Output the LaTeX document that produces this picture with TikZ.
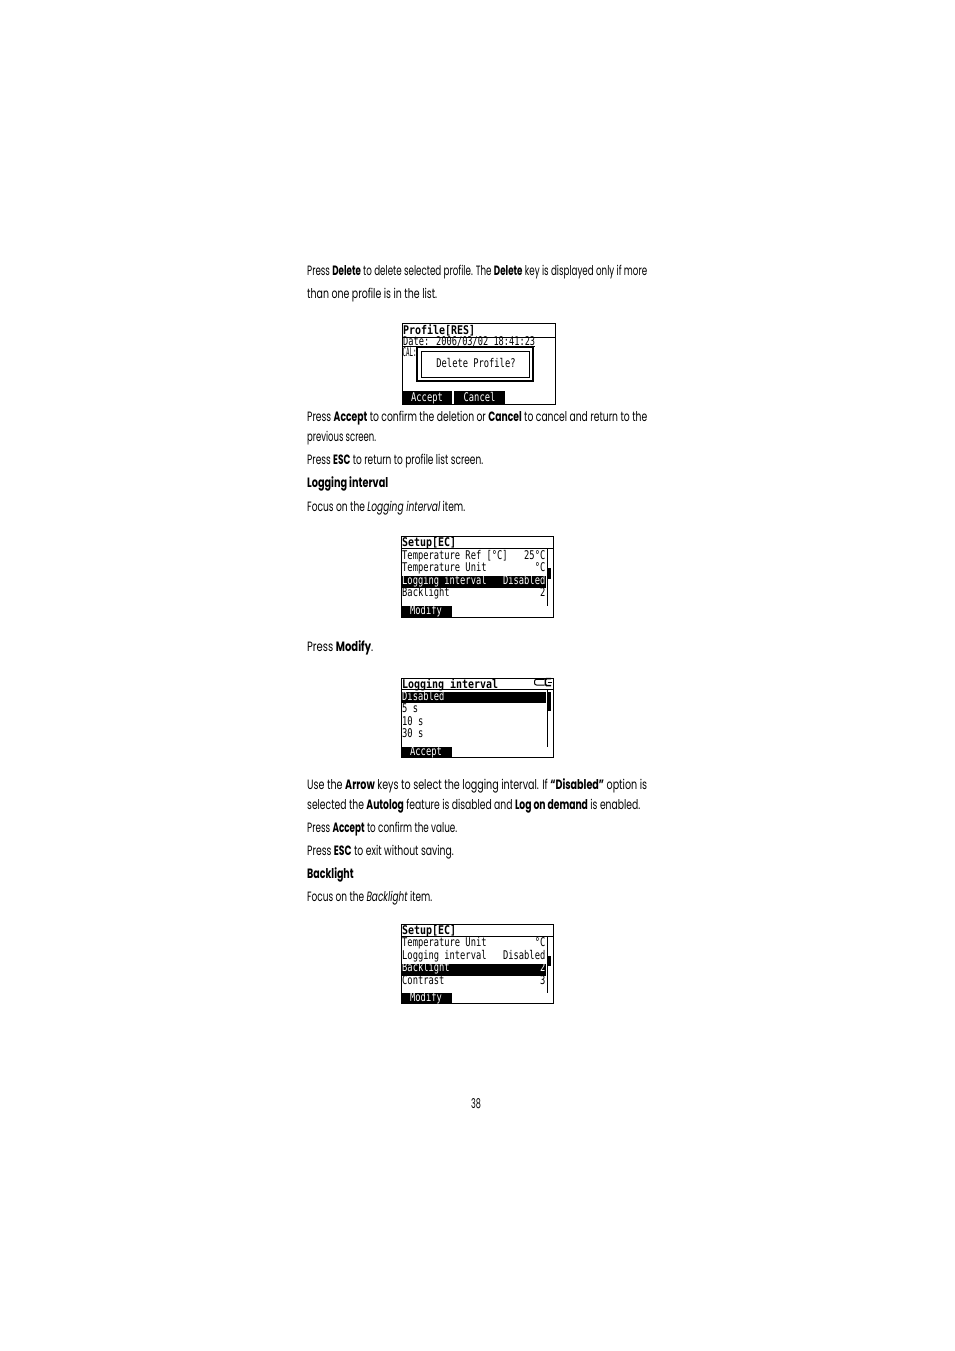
\documentclass[tikz,border=0pt]{standalone}
\usepackage{fontspec}
\usepackage{graphicx}
\setmainfont{Poppins}[FakeStretch=0.6]
\newfontfamily\lcdf{DejaVu Sans Mono}[FakeStretch=0.73]
\newfontfamily\lcdbf{DejaVu Sans Mono}[FakeStretch=0.83]
\newcommand{\bodyline}[4]{\node[bodytxt] (#1) at (307,#2) {\resizebox{#3pt}{\height}{#4}};}
\tikzset{
  bodytxt/.style={anchor=base west, inner sep=0pt, font=\fontsize{13.5}{16}\selectfont},
  lcdl/.style={anchor=base west, inner sep=0pt, font=\lcdf\fontsize{12}{13}\selectfont},
  lcdr/.style={anchor=base east, inner sep=0pt, font=\lcdf\fontsize{12}{13}\selectfont},
  lcdc/.style={anchor=base, inner sep=0pt, font=\lcdf\fontsize{12}{13}\selectfont},
  lcdtitle/.style={anchor=base west, inner sep=0pt, font=\lcdbf\bfseries\fontsize{12}{13}\selectfont},
  scrframe/.style={draw=black, line width=0.9pt},
  thinline/.style={draw=black, line width=0.9pt},
  inv/.style={text=white},
}
\begin{document}
\begin{tikzpicture}[x=1pt,y=-1pt]
\fill[white] (0,0) rectangle (954,1351);
\useasboundingbox (0,0) rectangle (954,1351);

% ---------- body text ----------
\bodyline{t1}{275.5}{340}{Press \textbf{Delete} to delete selected profile. The \textbf{Delete} key is displayed only if more}
\bodyline{t2}{298.5}{130}{than one profile is in the list.}
\bodyline{t3}{421}{340}{Press \textbf{Accept} to confirm the deletion or \textbf{Cancel} to cancel and return to the}
\bodyline{t4}{441}{69}{previous screen.}
\bodyline{t5}{464}{176}{Press \textbf{ESC} to return to profile list screen.}
\bodyline{t6}{487}{81}{\textbf{Logging interval}}
\bodyline{t7}{511}{158}{Focus on the \textit{Logging interval} item.}
\bodyline{t8}{651.5}{66}{Press \textbf{Modify}.}
\bodyline{t9}{789}{340}{Use the \textbf{Arrow} keys to select the logging interval. If \textbf{“Disabled”} option is}
\bodyline{t10}{809}{333}{selected the \textbf{Autolog} feature is disabled and \textbf{Log on demand} is enabled.}
\bodyline{t11}{832}{150}{Press \textbf{Accept} to confirm the value.}
\bodyline{t12}{855}{146.5}{Press \textbf{ESC} to exit without saving.}
\bodyline{t13}{878}{46.5}{\textbf{Backlight}}
\bodyline{t14}{901.5}{125}{Focus on the \textit{Backlight} item.}
\node[bodytxt, anchor=base] (pnum) at (476,1108) {38};

% ---------- screen 1 : Profile[RES] ----------
\draw[scrframe] (402,323) rectangle (555,404);
\node[lcdtitle] (s1title) at (403,334.5) {Profile[RES]};
\draw[thinline] (402,337) -- (555,337);
\node[lcdl] (s1date) at (403,345) {\resizebox{132pt}{\height}{Date: 2006/03/02 18:41:23}};
\draw[thinline] (402,346.5) -- (535,346.5);
\node[lcdl] (s1cal) at (402.5,356.5) {\resizebox{14pt}{\height}{CAL:}};
\filldraw[fill=white, draw=black, line width=1.2pt] (417,347.5) rectangle (533,381);
\draw[line width=1pt] (421,351) rectangle (529.5,377.5);
\node[lcdc] (s1msg) at (476,367.5) {Delete Profile?};
\fill[black] (402,391) rectangle (452,403.5);
\node[lcdc, inv] (s1acc) at (427,401.5) {Accept};
\fill[black] (454,391) rectangle (505,403.5);
\node[lcdc, inv] (s1can) at (479.5,401.5) {Cancel};

% ---------- screen 2 : Setup[EC] ----------
\draw[scrframe] (401,536) rectangle (553,617.5);
\node[lcdtitle] (s2title) at (402,546.5) {Setup[EC]};
\draw[thinline] (401,548.5) -- (553,548.5);
\node[lcdl] (s2r1) at (402,559) {Temperature Ref [°C]};
\node[lcdr] (s2v1) at (545.5,559) {25°C};
\node[lcdl] (s2r2) at (402,571.5) {Temperature Unit};
\node[lcdr] (s2v2) at (545.5,571.5) {°C};
\fill[black] (401,575.5) rectangle (546,588);
\node[lcdl, inv] (s2r3) at (402,584) {Logging interval};
\node[lcdr, inv] (s2v3) at (545.5,584) {Disabled};
\node[lcdl] (s2r4) at (402,596.5) {Backlight};
\node[lcdr] (s2v4) at (545.5,596.5) {2};
\draw[thinline] (547,548.5) -- (547,605.5);
\fill[black] (548.3,568) rectangle (550.6,579);
\fill[black] (401,605.5) rectangle (451.5,617.5);
\node[lcdc, inv] (s2mod) at (426,614.5) {Modify};

% ---------- screen 3 : Logging interval ----------
\draw[scrframe] (401,678) rectangle (553,757);
\node[lcdtitle] (s3title) at (402,688) {Logging interval};
\draw[thinline] (401,689.5) -- (553,689.5);
\draw[line width=1pt, rounded corners=2pt] (544.5,679.3) -- (534.5,679.3) -- (534.5,685) -- (544.5,685);
\draw[line width=1.6pt] (551,678.6) -- (546.7,678.6) -- (545.3,680) -- (545.3,684.2) -- (546.7,685.6) -- (551,685.6);
\draw[line width=1.2pt] (547.5,682.1) -- (551.5,682.1);
\fill[black] (401,691.5) rectangle (546,703.3);
\node[lcdl, inv] (s3r1) at (402,700) {Disabled};
\node[lcdl] (s3r2) at (402,712.5) {5 s};
\node[lcdl] (s3r3) at (402,725) {10 s};
\node[lcdl] (s3r4) at (402,737.5) {30 s};
\draw[thinline] (547,689.5) -- (547,746.5);
\fill[black] (548.3,692) rectangle (550.6,711);
\fill[black] (401,746.5) rectangle (451.5,757);
\node[lcdc, inv] (s3acc) at (426,755) {Accept};

% ---------- screen 4 : Setup[EC] ----------
\draw[scrframe] (401,924) rectangle (553,1003);
\node[lcdtitle] (s4title) at (402,934.5) {Setup[EC]};
\draw[thinline] (401,936.5) -- (553,936.5);
\node[lcdl] (s4r1) at (402,946.5) {Temperature Unit};
\node[lcdr] (s4v1) at (545.5,946.5) {°C};
\node[lcdl] (s4r2) at (402,959) {Logging interval};
\node[lcdr] (s4v2) at (545.5,959) {Disabled};
\fill[black] (401,963.5) rectangle (546,975.5);
\node[lcdl, inv] (s4r3) at (402,971.5) {Backlight};
\node[lcdr, inv] (s4v3) at (545.5,971.5) {2};
\node[lcdl] (s4r4) at (402,984) {Contrast};
\node[lcdr] (s4v4) at (545.5,984) {3};
\draw[thinline] (547,936.5) -- (547,993);
\fill[black] (548.3,956) rectangle (550.6,966);
\fill[black] (401,993) rectangle (451.5,1003);
\node[lcdc, inv] (s4mod) at (426,1001.5) {Modify};
\end{tikzpicture}
\end{document}
